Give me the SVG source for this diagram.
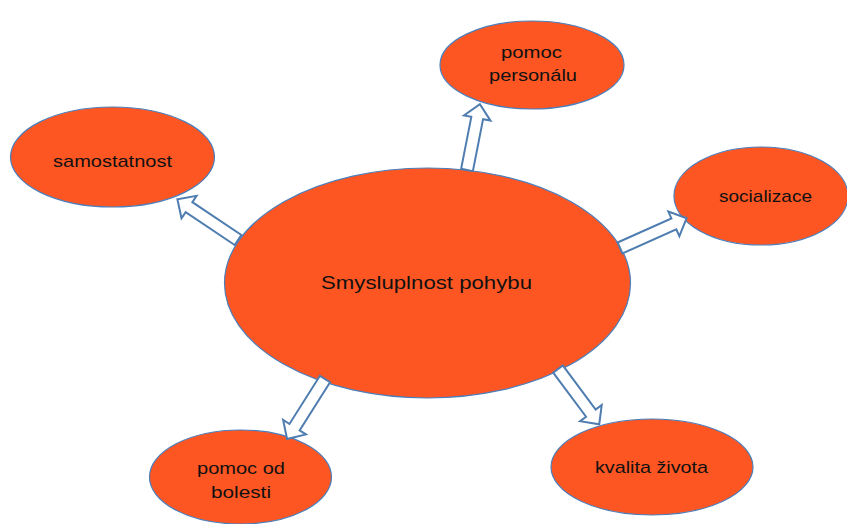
<svg xmlns="http://www.w3.org/2000/svg" width="847" height="524" viewBox="0 0 847 524">
<style>
.node ellipse{fill:#FD5623;stroke:#4A7EBB;stroke-width:1.2}
.lbl{font-family:"Liberation Sans",Arial,sans-serif;font-size:17px;fill:#111;text-anchor:middle}
.big{font-size:19px}
.arr{fill:#fff;stroke:#4F7DB0;stroke-width:2;stroke-linejoin:miter}
</style>
<defs>
<polygon id="ar" points="0,-6 -14,-6 -14,-13.5 0,0 -14,13.5 -14,6 0,6"/>
</defs>
<rect width="847" height="524" fill="#fff"/>
<g id="center" class="node">
<ellipse cx="427.5" cy="283" rx="203" ry="115"/>
<text class="lbl big" x="426.5" y="289" textLength="211" lengthAdjust="spacingAndGlyphs">Smysluplnost pohybu</text>
</g>
<g id="samostatnost" class="node">
<ellipse cx="112.5" cy="157" rx="102" ry="50"/>
<text class="lbl" x="112.5" y="167" textLength="119" lengthAdjust="spacingAndGlyphs">samostatnost</text>
</g>
<g id="pomoc-personalu" class="node">
<ellipse cx="532" cy="65" rx="92" ry="44"/>
<text class="lbl" x="531.5" y="58" textLength="61" lengthAdjust="spacingAndGlyphs">pomoc</text>
<text class="lbl" x="533" y="81" textLength="88" lengthAdjust="spacingAndGlyphs">personálu</text>
</g>
<g id="socializace" class="node">
<ellipse cx="761" cy="196" rx="87" ry="49"/>
<text class="lbl" x="765.5" y="202" textLength="93" lengthAdjust="spacingAndGlyphs">socializace</text>
</g>
<g id="pomoc-od-bolesti" class="node">
<ellipse cx="240.5" cy="477" rx="91" ry="47"/>
<text class="lbl" x="241" y="474" textLength="88" lengthAdjust="spacingAndGlyphs">pomoc od</text>
<text class="lbl" x="241" y="498" textLength="60" lengthAdjust="spacingAndGlyphs">bolesti</text>
</g>
<g id="kvalita-zivota" class="node">
<ellipse cx="652" cy="467" rx="101" ry="48"/>
<text class="lbl" x="651.5" y="473" textLength="113" lengthAdjust="spacingAndGlyphs">kvalita života</text>
</g>
<g id="connectors">
<g transform="translate(467,170) rotate(-78.9)"><polygon class="arr" points="0,-6 53,-6 53,-13.5 67,0 53,13.5 53,6 0,6"/></g>
<g transform="translate(238,240) rotate(-146.1)"><polygon class="arr" points="0,-6 59,-6 59,-13.5 73,0 59,13.5 59,6 0,6"/></g>
<g transform="translate(620,248) rotate(-24.1)"><polygon class="arr" points="0,-6 59,-6 59,-13.5 73,0 59,13.5 59,6 0,6"/></g>
<g transform="translate(325,379) rotate(122.3)"><polygon class="arr" points="0,-6 57,-6 57,-13.5 71,0 57,13.5 57,6 0,6"/></g>
<g transform="translate(558,369) rotate(53.3)"><polygon class="arr" points="0,-6 55,-6 55,-13.5 69,0 55,13.5 55,6 0,6"/></g>
</g>
</svg>
